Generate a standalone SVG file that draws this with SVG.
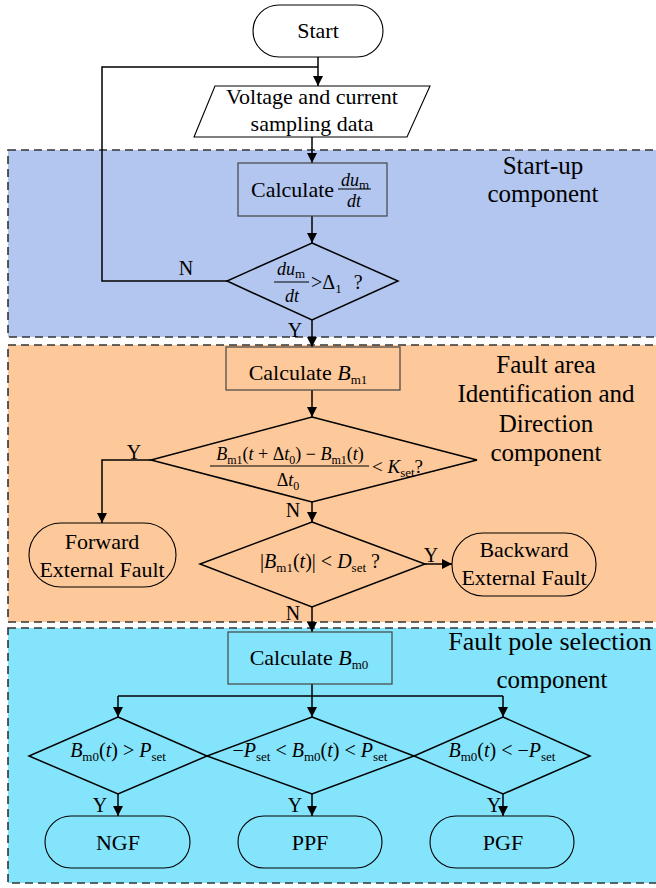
<svg xmlns="http://www.w3.org/2000/svg" width="656" height="888" viewBox="0 0 656 888">
<style>
text{font-family:"Liberation Serif","Times New Roman",serif;fill:#000}
.t{font-size:22px}
.lab{font-size:25px;text-anchor:middle}
.yn{font-size:20px;text-anchor:middle}
.m{font-size:20px}
.sub{font-size:13px}
.i{font-style:italic}
.region{stroke:#333;stroke-width:1.6;stroke-dasharray:8 5}
.box{fill:none;stroke:#444;stroke-width:1.2}
.term{fill:none;stroke:#000;stroke-width:1.1}
.dia{fill:none;stroke:#000;stroke-width:1.5}
.c{fill:none;stroke:#000;stroke-width:1.5}
.ar{marker-end:url(#ah)}
</style>
<defs>
<marker id="ah" markerWidth="10" markerHeight="12" refX="10" refY="6" orient="auto" markerUnits="userSpaceOnUse">
<path d="M0,1 L10,6 L0,11 Z" fill="#000"/>
</marker>
</defs>
<rect width="656" height="888" fill="#fff"/>
<g id="regions">
<rect id="startup-region" class="region" x="8" y="150" width="652" height="187" fill="#B3C6F0"/>
<rect id="fault-area-region" class="region" x="8" y="345" width="652" height="277" fill="#FDC89A"/>
<rect id="pole-region" class="region" x="8" y="628" width="652" height="255" fill="#84E4FC"/>
</g>
<g id="region-labels">
<text class="lab" x="543" y="174">Start-up</text>
<text class="lab" x="543" y="202">component</text>
<text class="lab" x="546" y="373">Fault area</text>
<text class="lab" x="546" y="402">Identification and</text>
<text class="lab" x="546" y="432">Direction</text>
<text class="lab" x="546" y="461">component</text>
<text class="lab" x="550" y="650" style="font-size:26px">Fault pole selection</text>
<text class="lab" x="552" y="688">component</text>
</g>
<g id="connectors">
<path class="c ar" d="M318,57 V86"/>
<path class="c" d="M227,281 H102 V67 H318"/>
<path class="c ar" d="M312,137 V163"/>
<path class="c ar" d="M312,216 V243"/>
<path class="c ar" d="M312,320 V347"/>
<path class="c ar" d="M312,390 V417"/>
<path class="c ar" d="M151,460 H102 V523"/>
<path class="c ar" d="M312,502 V522"/>
<path class="c ar" d="M425,564 H452"/>
<path class="c ar" d="M312,607 V632"/>
<path class="c" d="M312,684 V696 M118,696 H503"/>
<path class="c ar" d="M118,696 V717"/>
<path class="c ar" d="M312,696 V717"/>
<path class="c ar" d="M503,696 V717"/>
<path class="c ar" d="M118,794 V816"/>
<path class="c ar" d="M312,794 V816"/>
<path class="c ar" d="M503,794 V816"/>
<text class="yn" x="186" y="275">N</text>
<text class="yn" x="295" y="337">Y</text>
<text class="yn" x="134" y="459">Y</text>
<text class="yn" x="293" y="517">N</text>
<text class="yn" x="431" y="562">Y</text>
<text class="yn" x="293" y="620">N</text>
<text class="yn" x="100" y="812">Y</text>
<text class="yn" x="295" y="812">Y</text>
<text class="yn" x="494" y="812">Y</text>
</g>
<g id="start">
<rect class="term" x="253" y="5" width="130" height="52" rx="26"/>
<text class="t" x="318" y="38" text-anchor="middle">Start</text>
</g>
<g id="sampling">
<polygon class="term" points="215,86 430,86 407,137 194,137"/>
<text class="t" x="312" y="104" text-anchor="middle">Voltage and current</text>
<text class="t" x="312" y="131" text-anchor="middle">sampling data</text>
</g>
<g id="calc-du">
<rect class="box" x="238" y="163" width="149" height="53"/>
<text class="t" x="251" y="197">Calculate</text>
<text class="m i" x="341" y="186" style="font-size:18px">du<tspan class="sub" font-style="normal" dy="3">m</tspan></text>
<line x1="338" y1="189" x2="371" y2="189" stroke="#000" stroke-width="1"/>
<text class="m i" x="347" y="207" style="font-size:18px">dt</text>
</g>
<g id="check-du">
<polygon class="dia" points="312,243 398,281 312,320 227,281"/>
<text class="m i" x="277" y="275" style="font-size:18px">du<tspan class="sub" font-style="normal" dy="3">m</tspan></text>
<line x1="274" y1="282" x2="309" y2="282" stroke="#000" stroke-width="1"/>
<text class="m i" x="285" y="302" style="font-size:18px">dt</text>
<text class="m" x="311" y="289">&gt;Δ<tspan class="sub" dy="4">1</tspan><tspan dx="12" dy="-4">?</tspan></text>
</g>
<g id="calc-bm1">
<rect class="box" x="226" y="347" width="174" height="43"/>
<text class="t" x="308" y="380" text-anchor="middle">Calculate <tspan class="i">B</tspan><tspan class="sub" dy="4">m1</tspan></text>
</g>
<g id="check-kset">
<polygon class="dia" points="312,417 477,460 312,502 151,460"/>
<text class="m" x="290" y="460" text-anchor="middle" style="font-size:18px"><tspan class="i">B</tspan><tspan class="sub" dy="4" style="font-size:12px">m1</tspan><tspan dy="-4">(</tspan><tspan class="i">t</tspan> + Δ<tspan class="i">t</tspan><tspan class="sub" dy="4" style="font-size:12px">0</tspan><tspan dy="-4">) − </tspan><tspan class="i">B</tspan><tspan class="sub" dy="4" style="font-size:12px">m1</tspan><tspan dy="-4">(</tspan><tspan class="i">t</tspan>)</text>
<line x1="210" y1="466" x2="369" y2="466" stroke="#000" stroke-width="1"/>
<text class="m" x="288" y="486" text-anchor="middle" style="font-size:18px">Δ<tspan class="i">t</tspan><tspan class="sub" dy="4" style="font-size:12px">0</tspan></text>
<text class="m" x="372" y="473" style="font-size:19px">&lt; <tspan class="i">K</tspan><tspan class="sub" dy="4">set</tspan><tspan dy="-4">?</tspan></text>
</g>
<g id="forward">
<rect class="term" x="29" y="523" width="147" height="64" rx="32"/>
<text class="t" x="102" y="549" text-anchor="middle">Forward</text>
<text class="t" x="102" y="577" text-anchor="middle">External Fault</text>
</g>
<g id="check-dset">
<polygon class="dia" points="312,522 425,564 312,607 200,564"/>
<text class="m" x="320" y="568" text-anchor="middle">|<tspan class="i">B</tspan><tspan class="sub" dy="4">m1</tspan><tspan dy="-4">(</tspan><tspan class="i">t</tspan>)| &lt; <tspan class="i">D</tspan><tspan class="sub" dy="4">set</tspan><tspan dy="-4"> ?</tspan></text>
</g>
<g id="backward">
<rect class="term" x="452" y="533" width="144" height="63" rx="31"/>
<text class="t" x="524" y="557" text-anchor="middle">Backward</text>
<text class="t" x="524" y="585" text-anchor="middle">External Fault</text>
</g>
<g id="calc-bm0">
<rect class="box" x="228" y="632" width="164" height="52"/>
<text class="t" x="309" y="665" text-anchor="middle">Calculate <tspan class="i">B</tspan><tspan class="sub" dy="4">m0</tspan></text>
</g>
<g id="check-ngf">
<polygon class="dia" points="118,717 207,756 118,794 29,756"/>
<text class="m" x="118" y="757" text-anchor="middle"><tspan class="i">B</tspan><tspan class="sub" dy="4">m0</tspan><tspan dy="-4">(</tspan><tspan class="i">t</tspan>) &gt; <tspan class="i">P</tspan><tspan class="sub" dy="4">set</tspan></text>
</g>
<g id="check-ppf">
<polygon class="dia" points="312,717 414,756 312,794 207,756"/>
<text class="m" x="310" y="757" text-anchor="middle">−<tspan class="i">P</tspan><tspan class="sub" dy="4">set</tspan><tspan dy="-4"> &lt; </tspan><tspan class="i">B</tspan><tspan class="sub" dy="4">m0</tspan><tspan dy="-4">(</tspan><tspan class="i">t</tspan>) &lt; <tspan class="i">P</tspan><tspan class="sub" dy="4">set</tspan></text>
</g>
<g id="check-pgf">
<polygon class="dia" points="503,717 590,756 503,794 414,756"/>
<text class="m" x="502" y="757" text-anchor="middle"><tspan class="i">B</tspan><tspan class="sub" dy="4">m0</tspan><tspan dy="-4">(</tspan><tspan class="i">t</tspan>) &lt; −<tspan class="i">P</tspan><tspan class="sub" dy="4">set</tspan></text>
</g>
<g id="ngf">
<rect class="term" x="45" y="816" width="145" height="52" rx="26"/>
<text class="t" x="118" y="850" text-anchor="middle">NGF</text>
</g>
<g id="ppf">
<rect class="term" x="238" y="816" width="144" height="52" rx="26"/>
<text class="t" x="310" y="850" text-anchor="middle">PPF</text>
</g>
<g id="pgf">
<rect class="term" x="430" y="816" width="144" height="52" rx="26"/>
<text class="t" x="503" y="850" text-anchor="middle">PGF</text>
</g>
</svg>
